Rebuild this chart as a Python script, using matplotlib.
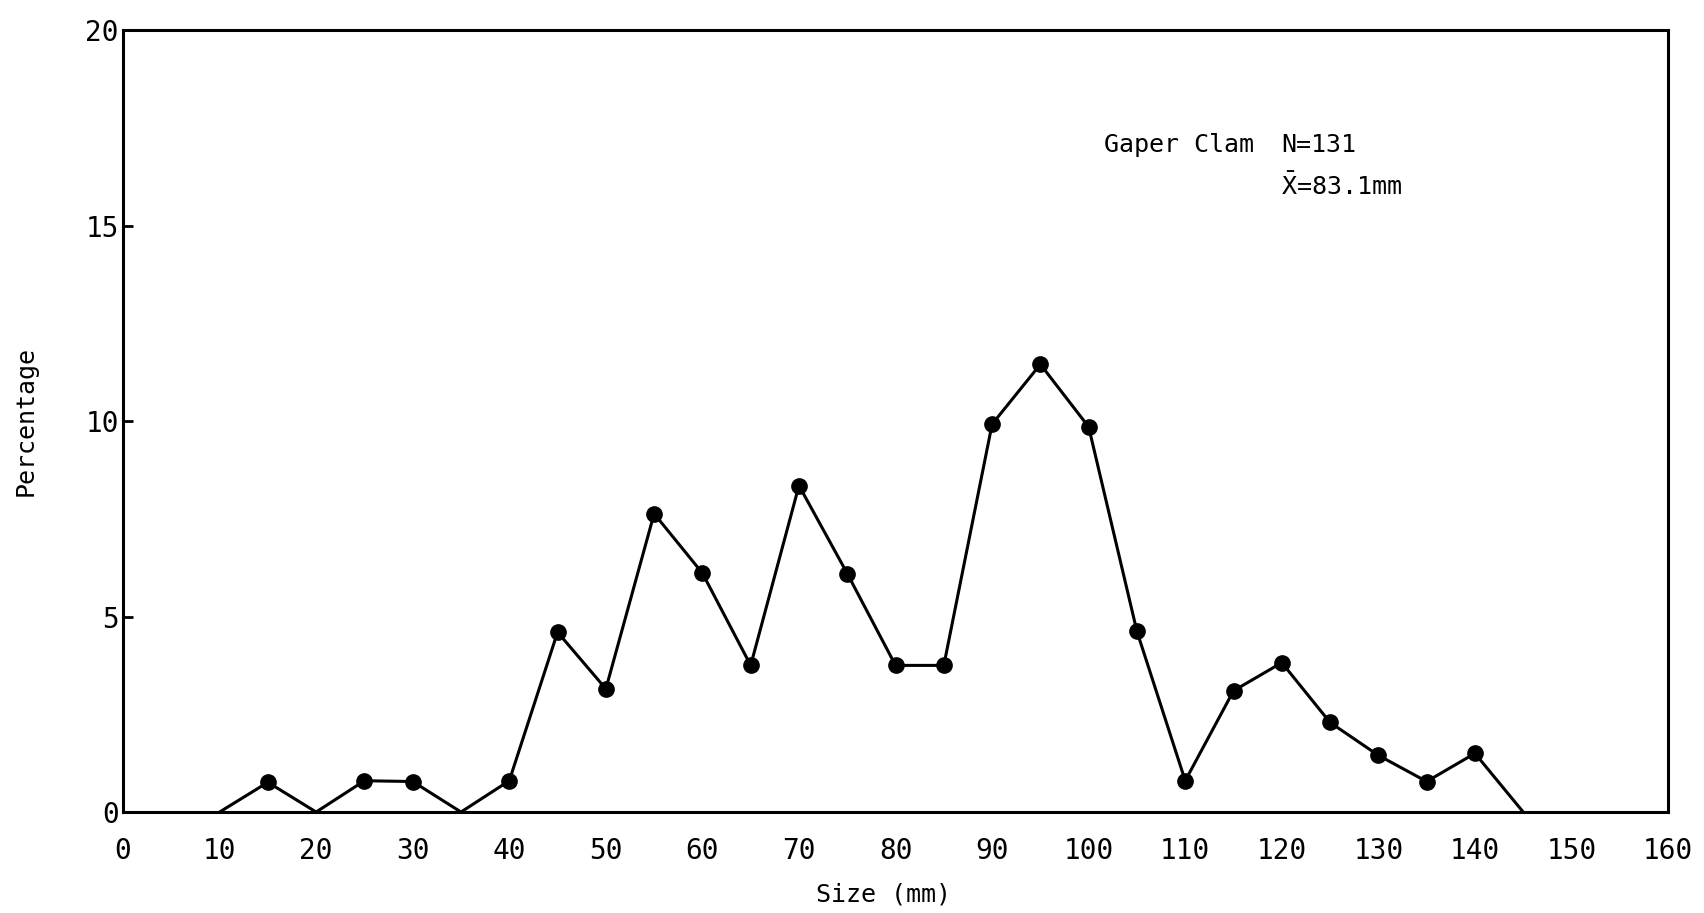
import matplotlib.pyplot as plt

# Size classes (mm) and percentage of clams per class
size_mm = [10, 15, 20, 25, 30, 35, 40, 45, 50, 55, 60, 65, 70, 75, 80, 85,
           90, 95, 100, 105, 110, 115, 120, 125, 130, 135, 140, 145]
percent = [0, 0.76, 0, 0.80, 0.78, 0, 0.80, 4.6, 3.15, 7.63, 6.11, 3.75, 8.35, 6.1,
           3.75, 3.75, 9.92, 11.45, 9.85, 4.62, 0.8, 3.1, 3.82, 2.29, 1.45, 0.78,
           1.5, 0]

x_ticks = list(range(0, 161, 10))
y_ticks = [0, 5, 10, 15, 20]

# typewriter look
plt.rcParams['font.family'] = ['DejaVu Sans Mono']
plt.rcParams['mathtext.fontset'] = 'custom'
plt.rcParams['mathtext.rm'] = 'DejaVu Sans Mono'

fig = plt.figure(figsize=(17.04, 9.13), dpi=100)
ax = fig.add_axes([0.0722, 0.1106, 0.9067, 0.8565])

ax.plot(size_mm, percent, color='black', linewidth=2.2)
# zero points have no dot
dots_x = [s for s, p in zip(size_mm, percent) if p > 0]
dots_y = [p for p in percent if p > 0]
ax.plot(dots_x, dots_y, 'o', color='black', markersize=11)

ax.set_xlim(0, 160)
ax.set_ylim(0, 20)
ax.set_xticks(x_ticks)
ax.set_yticks(y_ticks)
ax.tick_params(axis='x', length=0, pad=18, labelsize=20)
ax.tick_params(axis='y', direction='in', length=7, width=2, pad=3, labelsize=20)

for s in ax.spines.values():
    s.set_linewidth(2.2)

ax.set_xlabel('Size (mm)', fontsize=18)
ax.set_ylabel('Percentage', fontsize=18)
ax.xaxis.set_label_coords(0.492, -0.09)
ax.yaxis.set_label_coords(-0.055, 0.5)

ax.text(101.6, 17.07, 'Gaper Clam', fontsize=18, va='center')
ax.text(119.9, 17.07, 'N=131', fontsize=18, va='center')
ax.text(119.9, 16.0, r'$\bar{\mathrm{X}}$=83.1mm', fontsize=18, va='center')

fig.savefig('out.png', dpi=100)
